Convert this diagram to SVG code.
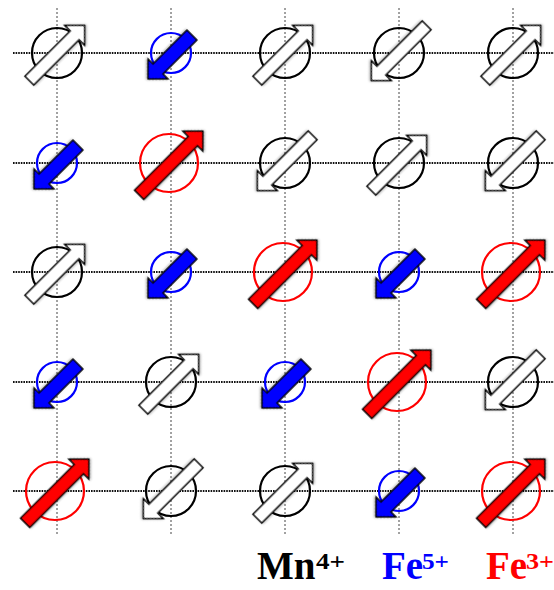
<svg xmlns="http://www.w3.org/2000/svg" xmlns:xlink="http://www.w3.org/1999/xlink" width="554" height="590" viewBox="0 0 554 590">
<style>
.hl{stroke:#111;stroke-width:2;stroke-dasharray:1.6 1;fill:none}
.vl{stroke:#444;stroke-width:1;stroke-dasharray:2 2;fill:none}
.cw{fill:none;stroke:#000;stroke-width:2.2}
.cb{fill:none;stroke:#0000ff;stroke-width:2.2}
.cr{fill:none;stroke:#ff0000;stroke-width:2.2}
.aw{fill:#fff;stroke:#000;stroke-width:1.5;stroke-linejoin:miter}
.ab{fill:#0000ff;stroke:#000;stroke-width:1.5;stroke-linejoin:miter}
.ar{fill:#ff0000;stroke:#000;stroke-width:1.5;stroke-linejoin:miter}
.lab{font-family:"Liberation Serif","Times New Roman",serif;font-weight:bold}
</style>
<defs>
<filter id="sh" x="-20%" y="-20%" width="140%" height="140%">
<feDropShadow dx="0.8" dy="0.8" stdDeviation="0.8" flood-color="#000" flood-opacity="0.35"/>
</filter>
<path id="aw" class="aw" filter="url(#sh)" d="M-39,-6.25 L25,-6.25 L25,-14 L39,0 L25,14 L25,6.25 L-39,6.25 Z"/>
<path id="ab" class="ab" filter="url(#sh)" d="M-31,-7 L17,-7 L17,-14 L31,0 L17,14 L17,7 L-31,7 Z"/>
<path id="ar" class="ar" filter="url(#sh)" d="M-45,-6.5 L31,-6.5 L31,-14 L45,0 L31,14 L31,6.5 L-45,6.5 Z"/>
</defs>
<rect width="554" height="590" fill="#fff"/>
<g id="connectors">
<line class="hl" x1="13" y1="53" x2="554" y2="53"/>
<line class="hl" x1="13" y1="163" x2="554" y2="163"/>
<line class="hl" x1="13" y1="272" x2="554" y2="272"/>
<line class="hl" x1="13" y1="382" x2="554" y2="382"/>
<line class="hl" x1="13" y1="491" x2="554" y2="491"/>
<line class="vl" x1="57" y1="8" x2="57" y2="536"/>
<line class="vl" x1="171" y1="8" x2="171" y2="536"/>
<line class="vl" x1="285" y1="8" x2="285" y2="536"/>
<line class="vl" x1="399" y1="8" x2="399" y2="536"/>
<line class="vl" x1="513" y1="8" x2="513" y2="536"/>
</g>
<!-- row 0 -->
<g id="n00" transform="translate(57,53)"><circle class="cw" r="25"/><use href="#aw" transform="rotate(-45)"/></g>
<g id="n01" transform="translate(171,53)"><circle class="cb" r="20"/><use href="#ab" transform="translate(-1,4) rotate(135)"/></g>
<g id="n02" transform="translate(285,53)"><circle class="cw" r="25"/><use href="#aw" transform="rotate(-45)"/></g>
<g id="n03" transform="translate(399,53)"><circle class="cw" r="25"/><use href="#aw" transform="rotate(135)"/></g>
<g id="n04" transform="translate(513,53)"><circle class="cw" r="25"/><use href="#aw" transform="rotate(-45)"/></g>
<!-- row 1 -->
<g id="n10" transform="translate(57,163)"><circle class="cb" r="20"/><use href="#ab" transform="translate(-1,4) rotate(135)"/></g>
<g id="n11" transform="translate(171,163)"><circle class="cr" cx="-2" r="29"/><use href="#ar" transform="rotate(-45)"/></g>
<g id="n12" transform="translate(285,163)"><circle class="cw" r="25"/><use href="#aw" transform="rotate(135)"/></g>
<g id="n13" transform="translate(399,163)"><circle class="cw" r="25"/><use href="#aw" transform="rotate(-45)"/></g>
<g id="n14" transform="translate(513,163)"><circle class="cw" r="25"/><use href="#aw" transform="rotate(135)"/></g>
<!-- row 2 -->
<g id="n20" transform="translate(57,272)"><circle class="cw" r="25"/><use href="#aw" transform="rotate(-45)"/></g>
<g id="n21" transform="translate(171,272)"><circle class="cb" r="20"/><use href="#ab" transform="translate(-1,4) rotate(135)"/></g>
<g id="n22" transform="translate(285,272)"><circle class="cr" cx="-2" r="29"/><use href="#ar" transform="rotate(-45)"/></g>
<g id="n23" transform="translate(399,272)"><circle class="cb" r="20"/><use href="#ab" transform="translate(-1,4) rotate(135)"/></g>
<g id="n24" transform="translate(513,272)"><circle class="cr" cx="-2" r="29"/><use href="#ar" transform="rotate(-45)"/></g>
<!-- row 3 -->
<g id="n30" transform="translate(57,382)"><circle class="cb" r="20"/><use href="#ab" transform="translate(-1,4) rotate(135)"/></g>
<g id="n31" transform="translate(171,382)"><circle class="cw" r="25"/><use href="#aw" transform="rotate(-45)"/></g>
<g id="n32" transform="translate(285,382)"><circle class="cb" r="20"/><use href="#ab" transform="translate(-1,4) rotate(135)"/></g>
<g id="n33" transform="translate(399,382)"><circle class="cr" cx="-2" r="29"/><use href="#ar" transform="rotate(-45)"/></g>
<g id="n34" transform="translate(513,382)"><circle class="cw" r="25"/><use href="#aw" transform="rotate(135)"/></g>
<!-- row 4 -->
<g id="n40" transform="translate(57,491)"><circle class="cr" cx="-2" r="29"/><use href="#ar" transform="rotate(-45)"/></g>
<g id="n41" transform="translate(171,491)"><circle class="cw" r="25"/><use href="#aw" transform="rotate(135)"/></g>
<g id="n42" transform="translate(285,491)"><circle class="cw" r="25"/><use href="#aw" transform="rotate(-45)"/></g>
<g id="n43" transform="translate(399,491)"><circle class="cb" r="20"/><use href="#ab" transform="translate(-1,4) rotate(135)"/></g>
<g id="n44" transform="translate(513,491)"><circle class="cr" cx="-2" r="29"/><use href="#ar" transform="rotate(-45)"/></g>
<g id="legend">
<g id="lab-mn"><text class="lab" x="257" y="579" font-size="39" fill="#000">Mn</text><text class="lab" x="316" y="569" font-size="23" fill="#000" textLength="29" lengthAdjust="spacingAndGlyphs">4+</text></g>
<g id="lab-fe5"><text class="lab" x="382" y="579" font-size="39" fill="#0000ff">Fe</text><text class="lab" x="422" y="569" font-size="23" fill="#0000ff" textLength="27" lengthAdjust="spacingAndGlyphs">5+</text></g>
<g id="lab-fe3"><text class="lab" x="486" y="579" font-size="39" fill="#ff0000">Fe</text><text class="lab" x="526" y="569" font-size="23" fill="#ff0000" textLength="28" lengthAdjust="spacingAndGlyphs">3+</text></g>
</g>
</svg>
